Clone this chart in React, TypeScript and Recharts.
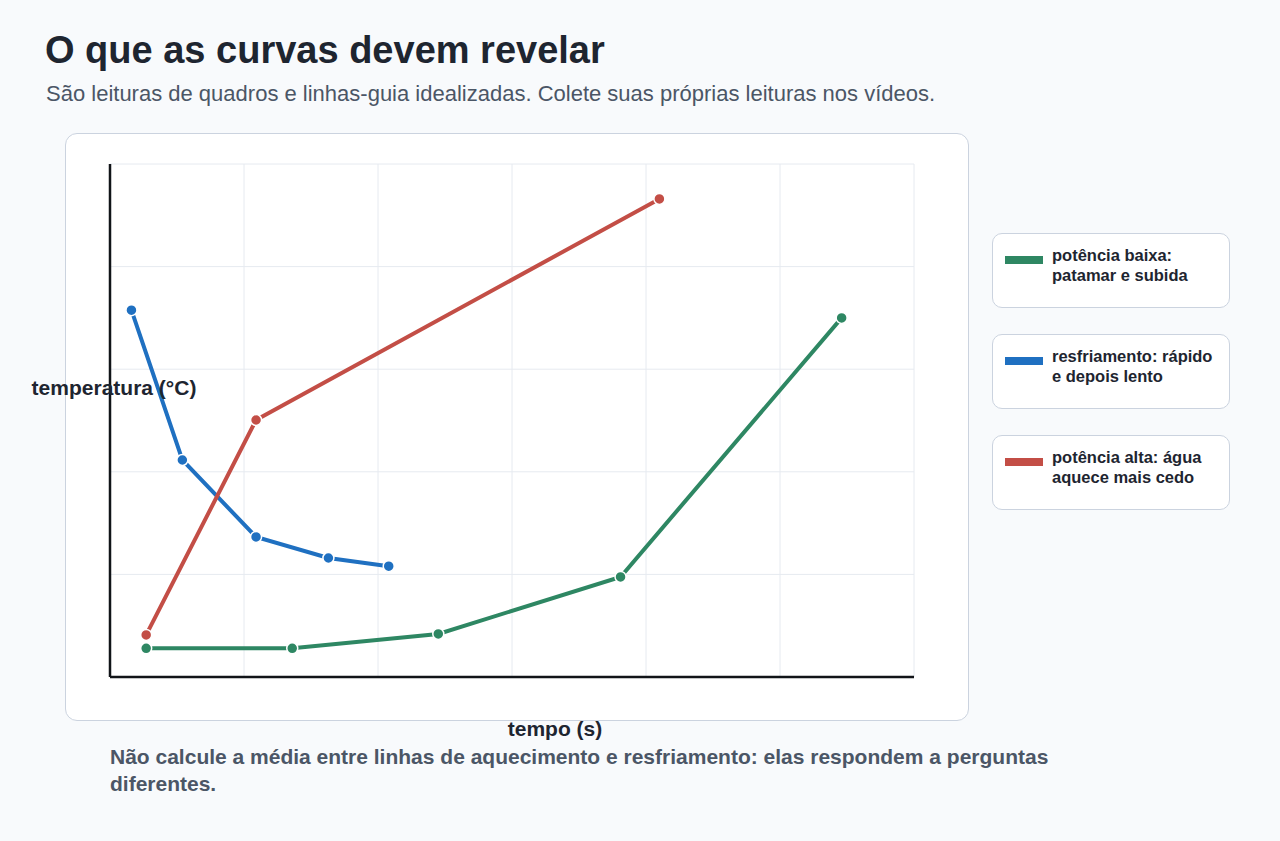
import { LineChart, Line, XAxis, YAxis, CartesianGrid } from "recharts";

// tempo (s) e temperatura (°C)
const lowPowerTime = [27, 136, 245, 381, 546];
const lowPowerTemp = [5.6, 5.6, 8.4, 19.5, 70];

const coolingTime = [16, 54, 109, 163, 208];
const coolingTemp = [71.5, 42.3, 27.3, 23.2, 21.6];

const highPowerTime = [27, 109, 410];
const highPowerTemp = [8.2, 50.1, 93.2];

const xTicks = [0, 100, 200, 300, 400, 500, 600];
const yTicks = [0, 20, 40, 60, 80, 100];

const series = [
  { key: "baixa", name: "potência baixa: patamar e subida", color: "#2e8763", time: lowPowerTime, temp: lowPowerTemp },
  { key: "resf", name: "resfriamento: rápido e depois lento", color: "#1f70c1", time: coolingTime, temp: coolingTemp },
  { key: "alta", name: "potência alta: água aquece mais cedo", color: "#c34e46", time: highPowerTime, temp: highPowerTemp },
];

const legendLines = [
  ["potência baixa:", "patamar e subida"],
  ["resfriamento: rápido", "e depois lento"],
  ["potência alta: água", "aquece mais cedo"],
];

const font = "'Liberation Sans', Arial, sans-serif";

// sem rótulos nos eixos, mas os ticks continuam servindo à grade
const NoTick = () => <g />;

const App = () => {
  return (
    <div
      style={{
        position: "absolute",
        left: 0,
        top: 0,
        width: 1280,
        height: 841,
        background: "#f8fafc",
        fontFamily: font,
        overflow: "hidden",
      }}
    >
      <div style={{ position: "absolute", left: 45, top: 29, fontSize: 38, fontWeight: 700, color: "#1e2530" }}>
        O que as curvas devem revelar
      </div>
      <div style={{ position: "absolute", left: 46, top: 81, fontSize: 22, color: "#4b5666" }}>
        São leituras de quadros e linhas-guia idealizadas. Colete suas próprias leituras nos vídeos.
      </div>

      <div
        style={{
          position: "absolute",
          left: 65,
          top: 133,
          width: 902,
          height: 586,
          background: "#ffffff",
          border: "1px solid #cbd3df",
          borderRadius: 12,
        }}
      />
      <div style={{ position: "absolute", left: 65, top: 133 }}>
        <LineChart width={904} height={588} margin={{ top: 31, right: 55, bottom: 34, left: 35 }}>
          <CartesianGrid stroke="#e6eaf0" strokeWidth={1} />
          <XAxis
            type="number"
            dataKey="t"
            domain={[0, 600]}
            ticks={xTicks}
            tick={NoTick}
            tickLine={false}
            height={10}
            axisLine={{ stroke: "#111418", strokeWidth: 2.5 }}
          />
          <YAxis
            type="number"
            dataKey="temp"
            domain={[0, 100]}
            ticks={yTicks}
            tick={NoTick}
            tickLine={false}
            width={10}
            axisLine={{ stroke: "#111418", strokeWidth: 2.5 }}
          />
          {series.map((s) => (
            <Line
              key={s.key}
              data={s.time.map((t, i) => ({ t, temp: s.temp[i] }))}
              dataKey="temp"
              name={s.name}
              stroke={s.color}
              strokeWidth={4}
              dot={{ r: 5.5, fill: s.color, stroke: "#ffffff", strokeWidth: 1.5 }}
              activeDot={false}
              isAnimationActive={false}
            />
          ))}
        </LineChart>
      </div>

      <div
        style={{
          position: "absolute",
          left: 14,
          top: 376,
          width: 200,
          textAlign: "center",
          fontSize: 21,
          fontWeight: 700,
          color: "#1e2530",
        }}
      >
        temperatura (°C)
      </div>
      <div
        style={{
          position: "absolute",
          left: 455,
          top: 717,
          width: 200,
          textAlign: "center",
          fontSize: 21,
          fontWeight: 700,
          color: "#1e2530",
        }}
      >
        tempo (s)
      </div>

      {series.map((s, i) => (
        <div
          key={s.key}
          style={{
            position: "absolute",
            left: 992,
            top: 233 + i * 101,
            width: 236,
            height: 73,
            background: "#ffffff",
            border: "1px solid #cbd3df",
            borderRadius: 10,
          }}
        >
          <div style={{ position: "absolute", left: 12, top: 22, width: 38, height: 8, background: s.color }} />
          <div
            style={{
              position: "absolute",
              left: 59,
              top: 11,
              fontSize: 16.5,
              lineHeight: "20px",
              fontWeight: 700,
              color: "#1e2530",
            }}
          >
            {legendLines[i][0]}
            <br />
            {legendLines[i][1]}
          </div>
        </div>
      ))}

      <div
        style={{
          position: "absolute",
          left: 110,
          top: 743,
          width: 960,
          fontSize: 21,
          lineHeight: "27px",
          fontWeight: 700,
          color: "#4b5666",
        }}
      >
        Não calcule a média entre linhas de aquecimento e resfriamento: elas respondem a perguntas diferentes.
      </div>
    </div>
  );
};

export default App;
